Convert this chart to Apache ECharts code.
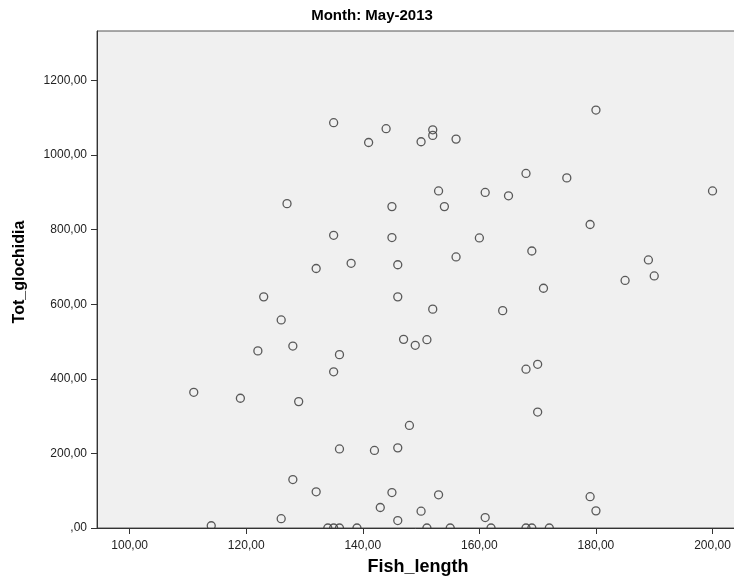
<!DOCTYPE html>
<html>
<head>
<meta charset="utf-8">
<script src="https://cdn.jsdelivr.net/npm/echarts@6/dist/echarts.min.js"></script>
<style>html,body{margin:0;padding:0;background:#fff;}#c{width:734px;height:585px;}</style>
</head>
<body>
<div id="c"></div>
<script>
// Fish_length (x) values
var fishLength = [135,127,135,132,144,141,150,152,152,156,168,175,153,161,165,145,154,145,160,169,138,146,156,180,200,179,189,190,185,123,126,122,128,136,135,111,119,129,136,128,132,126,114,146,152,164,171,147,149,151,168,170,170,148,142,146,145,153,143,150,146,161,134,135,136,139,151,155,162,168,169,172,179,180];
// Tot_glochidia (y) values
var totGlochidia = [1087,870,785,696,1071,1034,1036,1068,1053,1043,951,939,904,900,891,862,862,779,778,743,710,706,727,1121,904,814,719,676,664,620,558,475,488,465,419,364,348,339,212,130,97,25,6,620,587,583,643,506,490,505,426,439,311,275,208,215,95,89,55,45,20,28,0,0,0,0,0,0,0,0,0,0,84,46];
var xTicks = [100,120,140,160,180,200];
var yTicks = [0,200,400,600,800,1000,1200];
var titleText = 'Month: May-2013';
var xName = 'Fish_length';
var yName = 'Tot_glochidia';

var points = fishLength.map(function(x,i){return [x, totGlochidia[i]];});
function fmt(v){ if (v === 0) return ',00'; return v.toFixed(2).replace('.', ','); }
var font = '"Liberation Sans",Arial,sans-serif';

var chart = echarts.init(document.getElementById('c'), null, {renderer:'canvas'});
chart.setOption({
  animation: false,
  backgroundColor: '#ffffff',
  grid: {left: 97, top: 31, right: -3, bottom: 57, show: true, outerBoundsMode: 'none', containLabel: false, backgroundColor: '#f0f0f0', borderColor: '#555', borderWidth: 1},
  xAxis: {
    type: 'value', min: 94.4, max: 204.2, z: 10,
    axisLine: {show: true, onZero: false, lineStyle: {color: '#333', width: 1}},
    axisTick: {show: true, length: 6, customValues: xTicks, lineStyle: {color: '#333'}},
    axisLabel: {customValues: xTicks, formatter: fmt, margin: 12, fontFamily: font, fontSize: 12, color: '#222'},
    splitLine: {show: false}
  },
  yAxis: {
    type: 'value', min: 0, max: 1333, z: 10,
    axisLine: {show: true, onZero: false, lineStyle: {color: '#333', width: 1}},
    axisTick: {show: true, length: 6, customValues: yTicks, lineStyle: {color: '#333'}},
    axisLabel: {customValues: yTicks, formatter: fmt, margin: 10, fontFamily: font, fontSize: 12, color: '#222'},
    splitLine: {show: false}
  },
  graphic: [
    {type: 'rect', z: 5, silent: true, shape: {x: 0, y: 528.8, width: 734, height: 60}, style: {fill: '#ffffff'}},
    {type: 'text', z: 5, x: 372, y: 16, style: {text: titleText, textAlign: 'center', textVerticalAlign: 'middle', font: 'bold 15px ' + font, fill: '#000'}},
    {type: 'text', z: 5, x: 418, y: 567, style: {text: xName, textAlign: 'center', textVerticalAlign: 'middle', font: 'bold 18px ' + font, fill: '#000'}},
    {type: 'text', z: 5, x: 20, y: 272, rotation: Math.PI / 2, style: {text: yName, textAlign: 'center', textVerticalAlign: 'middle', font: 'bold 16px ' + font, fill: '#000'}}
  ],
  series: [{
    type: 'scatter', data: points, symbol: 'circle', symbolSize: 8, z: 2,
    itemStyle: {color: 'rgba(0,0,0,0)', borderColor: '#333', borderWidth: 1.3}
  }]
});
</script>
</body>
</html>
